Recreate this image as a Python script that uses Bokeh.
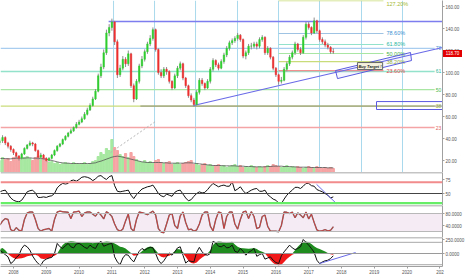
import numpy as np
from bokeh.plotting import figure
from bokeh.layouts import column
from bokeh.models import (Range1d, FixedTicker, Span, Label, BoxAnnotation,
                          NumeralTickFormatter, GridBox, Div)
from bokeh.embed import file_html
from bokeh.resources import INLINE
from bokeh.core.properties import value

# ---------------- data (monthly, from Aug 2007) ----------------
start_year, start_month = 2007, 8
first_open = 36
close = [38, 41, 36, 33, 30, 27, 24, 22, 26, 31,
         34, 36, 35, 29, 23, 25, 22, 20, 22, 25,
         29, 33, 35, 39, 42, 45, 47, 50, 53, 55,
         58, 62, 66, 70, 76, 83, 97, 105, 118, 136,
         141, 146, 128, 98, 104, 112, 108, 117, 88, 76,
         92, 106, 112, 119, 126, 131, 139, 121, 100, 97,
         103, 101, 92, 86, 97, 104, 108, 95, 88, 79,
         75, 71, 82, 93, 90, 86, 92, 103, 111, 107,
         104, 110, 116, 122, 127, 129, 131, 134, 130, 115,
         118, 124, 124, 126, 124, 130, 132, 118, 122, 114,
         104, 98, 92, 93, 103, 108, 114, 118, 126, 121,
         118, 132, 144, 141, 136, 147, 138, 130, 128, 125,
         123, 119, 118.7]
high = [40, 43, 42, 37, 34, 31, 28, 25, 27, 32,
        35, 38, 37, 36, 30, 27, 26, 23, 23, 26,
        30, 34, 36, 40, 43, 46, 49, 51, 55, 57,
        60, 64, 68, 72, 78, 85, 99, 108, 121, 139,
        144, 149, 147, 130, 107, 115, 114, 120, 118, 90,
        94, 108, 115, 121, 128, 134, 141, 140, 122, 103,
        105, 105, 102, 93, 99, 106, 110, 109, 96, 89,
        81, 77, 84, 95, 95, 91, 94, 105, 113, 112,
        109, 112, 118, 124, 129, 131, 133, 136, 135, 131,
        120, 126, 127, 128, 128, 132, 134, 133, 124, 123,
        115, 105, 99, 96, 105, 110, 116, 120, 128, 127,
        123, 134, 146, 146, 142, 150, 148, 139, 132, 130,
        127, 124, 122]
low = [34, 36, 34, 31, 28, 25, 22, 20, 21, 25,
       30, 33, 33, 28, 21, 22, 21, 19, 19, 21,
       24, 28, 32, 34, 38, 41, 44, 46, 49, 52,
       54, 57, 61, 65, 69, 75, 82, 95, 103, 116,
       133, 138, 125, 95, 96, 102, 105, 106, 86, 73,
       75, 90, 104, 110, 117, 124, 129, 119, 98, 95,
       95, 98, 90, 84, 85, 95, 102, 93, 86, 77,
       73, 69, 70, 80, 88, 84, 85, 90, 101, 105,
       102, 103, 108, 114, 120, 125, 127, 129, 128, 113,
       112, 116, 121, 122, 121, 122, 128, 116, 116, 112,
       102, 96, 89, 90, 92, 101, 106, 112, 116, 119,
       116, 117, 130, 139, 134, 135, 136, 128, 126, 123,
       121, 117, 117]
volume = [36, 45, 39, 42, 33, 45, 48, 42, 39, 45, 48, 42,
          36, 45, 48, 39, 42, 36, 30, 33, 27, 30, 24, 27,
          30, 27, 24, 30, 27, 24, 27, 30, 24, 27, 33, 36,
          48, 60, 54, 72, 66, 99, 75, 66, 54, 48, 57, 45,
          60, 48, 39, 33, 30, 36, 30, 33, 27, 36, 39, 30,
          27, 30, 33, 24, 27, 30, 24, 27, 30, 33, 36, 24,
          27, 21, 24, 27, 21, 24, 18, 21, 24, 18, 21, 15,
          18, 21, 24, 18, 21, 15, 18, 15, 21, 18, 15, 18,
          15, 18, 21, 18, 24, 21, 18, 15, 18, 21, 15, 18,
          15, 18, 15, 12, 15, 18, 15, 12, 18, 15, 12, 15,
          12, 15, 12]
volume_ma = [42, 42, 42, 41, 41, 42, 43, 43, 43, 43, 44, 44,
             43, 43, 43, 42, 41, 40, 38, 36, 34, 32, 30, 29,
             28, 28, 27, 27, 27, 27, 27, 27, 27, 27, 28, 29,
             32, 34, 37, 40, 43, 46, 48, 49, 48, 46, 44, 42,
             40, 38, 36, 34, 32, 31, 30, 30, 30, 30, 30, 30,
             29, 29, 28, 28, 28, 28, 28, 28, 29, 29, 29, 28,
             27, 26, 25, 24, 23, 22, 21, 21, 21, 21, 20, 20,
             20, 20, 20, 19, 19, 19, 18, 18, 18, 17, 17, 17,
             17, 17, 18, 18, 19, 19, 19, 19, 18, 18, 18, 17,
             17, 16, 16, 16, 16, 16, 15, 15, 15, 15, 15, 15,
             14, 14, 14]
rsi = [53, 55, 56, 49, 42, 38, 36, 35, 38, 45,
       53, 55, 56, 51, 43, 43, 44, 43, 45, 46,
       50, 60, 65, 68, 67, 68, 73, 74, 72, 75,
       79, 80, 79, 77, 73, 76, 81, 82, 78, 75,
       80, 82, 64, 54, 53, 54, 55, 56, 47, 41,
       48, 53, 58, 60, 62, 63, 65, 58, 50, 46,
       44, 49, 47, 45, 52, 55, 56, 49, 42, 37,
       39, 45, 50, 53, 51, 52, 57, 63, 68, 65,
       62, 64, 65, 63, 63, 71, 55, 58, 62, 55,
       50, 53, 56, 58, 59, 54, 54, 56, 48, 44,
       40, 38, 33, 32, 40, 47, 52, 56, 61, 61,
       59, 63, 68, 68, 64, 63, 57, 55, 53, 50,
       47, 42, 44]
stoch = [41, 55, 63, 60, 26, 21, 33, 24, 22, 60,
         82, 85, 85, 60, 30, 21, 26, 28, 30, 21,
         60, 85, 88, 86, 85, 84, 63, 85, 86, 88,
         70, 82, 85, 85, 78, 71, 84, 75, 62, 86,
         80, 70, 45, 26, 21, 28, 55, 78, 30, 21,
         60, 85, 83, 80, 76, 82, 88, 75, 30, 18,
         16, 45, 75, 80, 40, 30, 72, 85, 50, 26,
         28, 21, 25, 45, 75, 85, 85, 38, 22, 60,
         85, 82, 30, 70, 85, 85, 45, 28, 60, 85,
         88, 63, 86, 70, 30, 34, 70, 75, 37, 21,
         21, 21, 19, 40, 85, 84, 80, 85, 66, 82,
         75, 66, 85, 62, 78, 50, 25, 21, 23, 26,
         22, 24, 36]
osc_hist = [80, 100, 60, -10, -50, -80, -100, -90, -85, -70,
            -50, -40, -30, -20, -40, -90, -100, -95, -85, -60,
            -40, -10, 80, 150, 190, 210, 220, 215, 205, 200,
            190, 195, 200, 190, 185, 190, 200, 195, 205, 215,
            210, 200, 180, 150, 120, 110, 90, 50, 10, -40,
            -30, -10, 40, 80, 110, 125, 115, 60, -20, -60,
            -70, -55, -40, -10, 40, 80, 70, 20, -60, -130,
            -170, -180, -160, -110, -70, -40, -10, 60, 150, 200,
            215, 210, 200, 190, 200, 210, 160, 120, 100, 95,
            90, 85, 90, 100, 80, 50, 30, 10, -60, -120,
            -170, -200, -210, -200, -150, -100, -60, -20, 60, 120,
            170, 200, 215, 200, 170, 130, 100, 80, 60, 35,
            10, -15, -20]
osc_line = [60, 20, -20, -60, -180, -140, -70, -30, 90, 150,
            120, 60, -45, -120, -180, -210, -130, -100, -80, -70,
            0, 180, 120, 90, 140, 180, 120, 100, 170, 180,
            150, 110, 90, 150, 110, 90, 180, 220, 130, 150,
            170, 180, -60, -150, -200, -80, -20, -30, -100, -150,
            -50, 40, 90, 60, 90, 110, 100, 0, -120, -180,
            -130, -55, 10, -30, 30, 100, 120, -30, -170, -130,
            -140, -150, 20, 110, 30, -20, -30, 0, 220, 190,
            130, 120, 150, 100, 110, 150, 40, 20, 90, 40,
            -30, 20, 50, 90, -50, -20, 0, -100, -80, -60,
            -120, -160, -180, -40, 30, 90, 150, 100, 70, 90,
            120, 250, 200, 150, 90, 20, -120, -180, -150, -130,
            -120, -90, -40]

last_price_text = "118.70"
price_ticks = [20, 40, 60, 80, 100, 120, 140, 160]
year_ticks = [2008, 2009, 2010, 2011, 2012, 2013, 2014, 2015, 2016, 2017,
              2018, 2019, 2020, 2021]
year_labels = ["2008", "2009", "2010", "2011", "2012", "2013", "2014", "2015",
               "2016", "2017", "2018", "2019", "2020", "202"]

# long-term fibonacci levels (full width)
long_fib_prices = [50, 69.5, 84.5, 101, 122]
long_fib_labels = ["23", "38", "50", "61", "78"]
long_fib_colors = ["#f4a4a4", "#c9dc7a", "#a9e6a3", "#92e2cc", "#a9cdee"]
long_fib_text = ["#e06060", "#9ab82a", "#4cb84c", "#2fb59c", "#4b90d0"]
# short-term fibonacci levels (2016 low -> 2017 high)
short_fib_prices = [101.8, 110.0, 117.3, 125.5, 135.5]
short_fib_labels = ["23.60%", "38.20%", "50.00%", "61.80%", "78.60%"]
short_fib_colors = ["#f28f8f", "#c9dc7a", "#a9e6a3", "#92e2cc", "#9fc3e3"]
short_fib_text = ["#e04848", "#9ab82a", "#45b045", "#2bb5a0", "#3d8fd1"]
ext_fib_price, ext_fib_label = 165.3, "127.20%"
short_fib_start, short_fib_end, short_fib_label_at = 2016.08, 2019.28, 2019.37
long_fib_end, long_fib_label_at = 2020.84, 2020.87

cycle_dates = [2011.05, 2012.30, 2013.55, 2014.83, 2016.08, 2017.33, 2018.61, 2019.86]
resist_start, resist_price = 2010.90, 146.4
support_start, support_price = 2011.87, 69.5
trend_x, trend_y = [2013.49, 2021.08], [70, 122.7]
proj_x, proj_y = [2010.96, 2012.33], [27.3, 55.5]
box_x = [2017.817, 2020.104, 2020.134, 2017.878]
box_y = [101.8, 118.2, 110.9, 94.5]
target_x, target_y = 2018.87, 105.9
zone_left, zone_right, zone_bottom, zone_top = 2019.067, 2021.3, 66.4, 73.6
rsi_trend_x, rsi_trend_y = [2017.24, 2017.85], [66.4, 31.8]
osc_trend_x, osc_trend_y = [2017.33, 2018.43], [-179, 18]

# ---------------- derived ----------------
n = len(close)
t = np.array([start_year + (start_month - 1 + i) / 12.0 for i in range(n)])
opens = [first_open] + close[:-1]
up = [c >= o for o, c in zip(opens, close)]
body_col = ["#2fcf2f" if u else "#ee3030" for u in up]
vol_col = ["#a6e8a0" if u else "#f6a3a3" for u in up]
hist = np.array(osc_hist, dtype=float)
pos = np.where(hist > 0, hist, 0)
neg = np.where(hist < 0, hist, 0)

FONT = "Liberation Sans"
W = 442
xr = Range1d(2007.604, 2021.079)
AX = "#a0a0a0"
LBL = "#555555"


def make_fig(h, y0, y1, bottom=0):
    p = figure(frame_width=W, frame_height=h, x_range=xr, y_range=Range1d(y0, y1),
               output_backend="svg", toolbar_location=None, y_axis_location="right",
               x_axis_location="below" if bottom else None,
               min_border_left=0, min_border_right=24, min_border_top=0,
               min_border_bottom=bottom)
    p.grid.grid_line_color = None
    p.outline_line_color = None
    p.background_fill_color = "white"
    p.border_fill_color = "white"
    ax = p.yaxis[0]
    ax.axis_line_color = AX
    ax.major_tick_line_color = AX
    ax.major_tick_out = 2
    ax.major_tick_in = 0
    ax.minor_tick_line_color = None
    ax.major_label_text_font_size = "4.5px"
    ax.major_label_text_color = LBL
    ax.major_label_text_font = FONT
    ax.major_label_standoff = 1
    return p


# ---------------- price panel ----------------
p1 = make_fig(172, 9.1, 165.5)
p1.yaxis[0].ticker = FixedTicker(ticks=price_ticks)
p1.yaxis[0].formatter = NumeralTickFormatter(format="0.00")
p1.extra_y_ranges = {"vol": Range1d(0, 516)}

for d in cycle_dates:
    p1.add_layout(Span(location=d, dimension="height", line_color="#a8d9ec",
                       line_width=1, level="underlay"))

p1.vbar(x=t, top=volume, bottom=0, width=0.8 / 12, color=vol_col,
        y_range_name="vol")
p1.line(t, volume_ma, y_range_name="vol", line_color="#555555", line_width=0.8)

for pr, c in zip(long_fib_prices, long_fib_colors):
    p1.segment(x0=xr.start, y0=pr, x1=long_fib_end, y1=pr, line_color=c, line_width=1.4)
p1.text(x=[long_fib_label_at] * len(long_fib_prices), y=long_fib_prices,
        text=long_fib_labels, text_color=long_fib_text, text_font_size="5px",
        text_font=value(FONT), text_baseline="middle", text_align="left")
p1.segment(x0=support_start, y0=support_price, x1=xr.end, y1=support_price,
           line_color="#8c8c7a", line_width=1)

for pr, c in zip(short_fib_prices, short_fib_colors):
    p1.segment(x0=short_fib_start, y0=pr, x1=short_fib_end, y1=pr, line_color=c,
               line_width=1.2)
p1.segment(x0=short_fib_start, y0=ext_fib_price, x1=short_fib_end, y1=ext_fib_price,
           line_color="#c9dc7a", line_width=1.2)
p1.text(x=[short_fib_label_at] * len(short_fib_prices), y=short_fib_prices,
        text=short_fib_labels, text_color=short_fib_text, text_font_size="5.5px",
        text_font=value(FONT), text_baseline="middle", text_align="left")
p1.text(x=[short_fib_label_at], y=[ext_fib_price], text=[ext_fib_label],
        text_color="#a5b830", text_font_size="5.5px", text_font=value(FONT),
        text_baseline="top", text_align="left")

p1.segment(x0=resist_start, y0=resist_price, x1=xr.end, y1=resist_price,
           line_color="#7d7df0", line_width=1.4)
p1.line(trend_x, trend_y, line_color="#6a6ae8", line_width=1.1)
p1.line(proj_x, proj_y, line_color="#b5b5b5", line_width=1, line_dash="2 2")
p1.patch(box_x, box_y, fill_color="#6a6ae8", fill_alpha=0.06,
         line_color="#5a5ae0", line_width=1)
p1.quad(left=zone_left, right=zone_right, bottom=zone_bottom, top=zone_top,
        fill_color=None, line_color="#5a5ae0", line_width=1)

p1.segment(x0=t, y0=low, x1=t, y1=high, line_color="#8d8d8d", line_width=1)
p1.vbar(x=t, bottom=opens, top=close, width=0.55 / 12, fill_color=body_col,
        line_color=body_col, line_width=0.5)

p1.add_layout(Label(x=target_x, y=target_y, text="Buy Target !", text_font_size="4px",
                    text_font=FONT, text_font_style="bold italic", text_color="#222222",
                    text_align="center", text_baseline="middle",
                    background_fill_color="#f4f0dc", border_line_color="#666666",
                    padding=1))

# last-price tag sitting over the price axis strip
tag = Div(text=('<div style="background:#e30000;color:#ffffff;font-family:Liberation Sans;'
                'font-size:4.5px;line-height:7px;height:7px;width:19px;text-align:center;">'
                + last_price_text + '</div>'),
          width=19, height=7, margin=(43, 0, 0, 443))
top_block = GridBox(children=[(p1, 0, 0), (tag, 0, 0)])

# ---------------- RSI panel ----------------
p2 = make_fig(33, 28.6, 87.5)
p2.yaxis[0].ticker = FixedTicker(ticks=[50, 75])
p2.add_layout(Span(location=87.5, dimension="width", line_color="#8a8a8a", line_width=1.5))
p2.add_layout(Span(location=70, dimension="width", line_color="#f28b8b", line_width=2))
p2.add_layout(Span(location=50, dimension="width", line_color="#444444", line_width=1))
p2.add_layout(Span(location=33, dimension="width", line_color="#66ee66", line_width=2.2))
p2.line(t, rsi, line_color="#111111", line_width=1)
p2.line(rsi_trend_x, rsi_trend_y, line_color="#6a6ae8", line_width=1)

# ---------------- Stochastic panel ----------------
p3 = make_fig(32, 0, 106.7)
p3.yaxis[0].ticker = FixedTicker(ticks=[40, 80])
p3.yaxis[0].formatter = NumeralTickFormatter(format="0.0000")
p3.add_layout(Span(location=106.7, dimension="width", line_color="#8a8a8a", line_width=1.5))
p3.add_layout(BoxAnnotation(bottom=20, top=80, fill_color="#f5ebf5", fill_alpha=1,
                            line_color=None, level="underlay"))
p3.add_layout(Span(location=80, dimension="width", line_color="#b8b8b8", line_width=1))
p3.add_layout(Span(location=20, dimension="width", line_color="#b8b8b8", line_width=1))
p3.line(t, stoch, line_color="#777777", line_width=1.4)
p3.line(t, stoch, line_color="#d03a3a", line_width=0.9)

# ---------------- Oscillator panel ----------------
p4 = make_fig(29, -232, 286, bottom=9)
p4.yaxis[0].ticker = FixedTicker(ticks=[0, 250])
p4.yaxis[0].formatter = NumeralTickFormatter(format="0.0000")
p4.add_layout(Span(location=286, dimension="width", line_color="#8a8a8a", line_width=1.5))
p4.add_layout(Span(location=200, dimension="width", line_color="#a8a8a8", line_width=1))
p4.add_layout(Span(location=-200, dimension="width", line_color="#a8a8a8", line_width=1))
p4.varea(x=t, y1=0, y2=pos, fill_color="#1e8c1e")
p4.varea(x=t, y1=0, y2=neg, fill_color="#f01818")
p4.add_layout(Span(location=0, dimension="width", line_color="#9a9a9a", line_width=1))
p4.line(t, osc_line, line_color="#111111", line_width=1)
p4.line(osc_trend_x, osc_trend_y, line_color="#6a6ae8", line_width=1)

xa = p4.xaxis[0]
xa.ticker = FixedTicker(ticks=year_ticks)
xa.major_label_overrides = {y: s for y, s in zip(year_ticks, year_labels)}
xa.axis_line_color = AX
xa.major_tick_line_color = AX
xa.major_tick_out = 2
xa.major_tick_in = 0
xa.minor_tick_line_color = None
xa.major_label_text_font_size = "4.5px"
xa.major_label_text_color = LBL
xa.major_label_text_font = FONT
xa.major_label_standoff = 1

layout = column(top_block, p2, p3, p4, spacing=0)
open("out.html", "w").write(file_html(layout, INLINE))
